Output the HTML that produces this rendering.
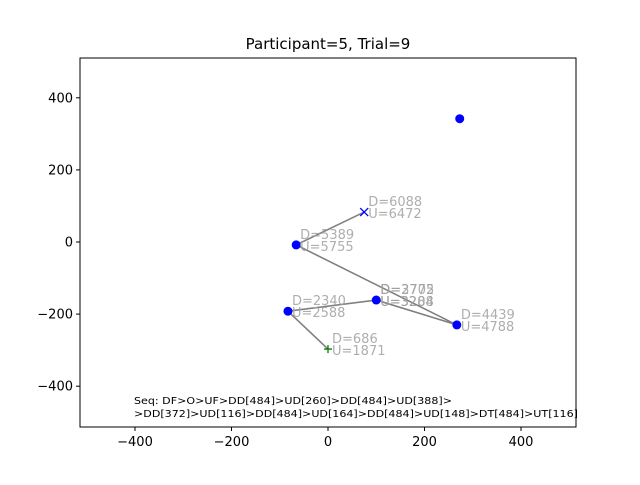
<!DOCTYPE html>
<html><head><meta charset="utf-8"><style>
html,body{margin:0;padding:0;background:#fff;}
svg text{font-family:"DejaVu Sans","Liberation Sans",sans-serif;}
</style></head><body>
<svg id="chart" width="640" height="480" viewBox="0 0 640 480" xmlns="http://www.w3.org/2000/svg">
<rect width="640" height="480" fill="#fff"/>
<text x="328" y="49" font-size="15" text-anchor="middle">Participant=5, Trial=9</text>
<g id="plot"></g>
<rect x="80" y="58" width="496" height="369" fill="none" stroke="#000" stroke-width="1"/>
<text x="134" y="404" font-size="10" textLength="318" lengthAdjust="spacingAndGlyphs">Seq: DF&gt;O&gt;UF&gt;DD[484]&gt;UD[260]&gt;DD[484]&gt;UD[388]&gt;</text>
<text x="134" y="417" font-size="10" textLength="444" lengthAdjust="spacingAndGlyphs">&gt;DD[372]&gt;UD[116]&gt;DD[484]&gt;UD[164]&gt;DD[484]&gt;UD[148]&gt;DT[484]&gt;UT[116]</text>
</svg>
<script>
const pathX = [0, -83, 100, 267, -66, 75];
const pathY = [-297, -192, -161, -230, -8, 83];
const downLabels = ["D=686", "D=2340", "D=2772", "D=4439", "D=5389", "D=6088"];
const upLabels = ["U=1871", "U=2588", "U=3204", "U=4788", "U=5755", "U=6472"];
const extraX = [100];
const extraY = [-161];
const extraDown = ["D=3705"];
const extraUp = ["U=3288"];
const loneX = [273];
const loneY = [342];
const xTicks = [-400, -200, 0, 200, 400];
const yTicks = [-400, -200, 0, 200, 400];

const NS = "http://www.w3.org/2000/svg";
const svg = document.getElementById('chart');
const g = document.getElementById('plot');
const sx = v => 328 + v * 0.4825;
const sy = v => 242 - v * 0.3605;
function mk(tag, attrs, parent) {
  const e = document.createElementNS(NS, tag);
  for (const k in attrs) e.setAttribute(k, attrs[k]);
  (parent || g).appendChild(e);
  return e;
}
xTicks.forEach(t => {
  const l = mk('line', {x1: sx(t), x2: sx(t), y1: 427, y2: 431, stroke: '#000'}, svg);
  
  
  const tx = mk('text', {x: sx(t), y: 446, 'font-size': 13, 'text-anchor': 'middle'}, svg);
  tx.textContent = (t < 0 ? '\u2212' + (-t) : t);
  
  
});
yTicks.forEach(t => {
  const l = mk('line', {x1: 76, x2: 80, y1: sy(t), y2: sy(t), stroke: '#000'}, svg);
  
  
  const tx = mk('text', {x: 73, y: sy(t) + 4.5, 'font-size': 13, 'text-anchor': 'end'}, svg);
  tx.textContent = (t < 0 ? '\u2212' + (-t) : t);
  
  
});
const pts = pathX.map((x, i) => sx(x) + ',' + sy(pathY[i])).join(' ');
const pl = mk('polyline', {points: pts, fill: 'none', stroke: '#808080', 'stroke-width': 1.6});


pathX.forEach((x, i) => {
  const cx = sx(x), cy = sy(pathY[i]);
  let m;
  if (i === 0) {
    m = mk('path', {d: `M${cx-4},${cy}H${cx+4}M${cx},${cy-4}V${cy+4}`, stroke: 'green', 'stroke-width': 1.3, fill: 'none'});
    
  } else if (i === pathX.length - 1) {
    m = mk('path', {d: `M${cx-4},${cy-4}L${cx+4},${cy+4}M${cx-4},${cy+4}L${cx+4},${cy-4}`, stroke: 'blue', 'stroke-width': 1.3, fill: 'none'});
    
  } else {
    m = mk('circle', {cx: cx, cy: cy, r: 4.5, fill: 'blue'});
    
  }
  
});
loneX.forEach((x, i) => {
  const m = mk('circle', {cx: sx(x), cy: sy(loneY[i]), r: 4.5, fill: 'blue'});
  
  
});
function labels(xs, ys, ds, us) {
  xs.forEach((x, i) => {
    const cx = sx(x) + 4, cy = sy(ys[i]);
    const d = mk('text', {x: cx, y: cy - 6, 'font-size': 13, fill: '#a0a0a0', 'fill-opacity': 0.85});
    d.textContent = ds[i];
    
    
    const u = mk('text', {x: cx, y: cy + 6, 'font-size': 13, fill: '#a0a0a0', 'fill-opacity': 0.85});
    u.textContent = us[i];
    
    
  });
}
labels(pathX, pathY, downLabels, upLabels);
labels(extraX, extraY, extraDown, extraUp);
</script>
</body></html>
